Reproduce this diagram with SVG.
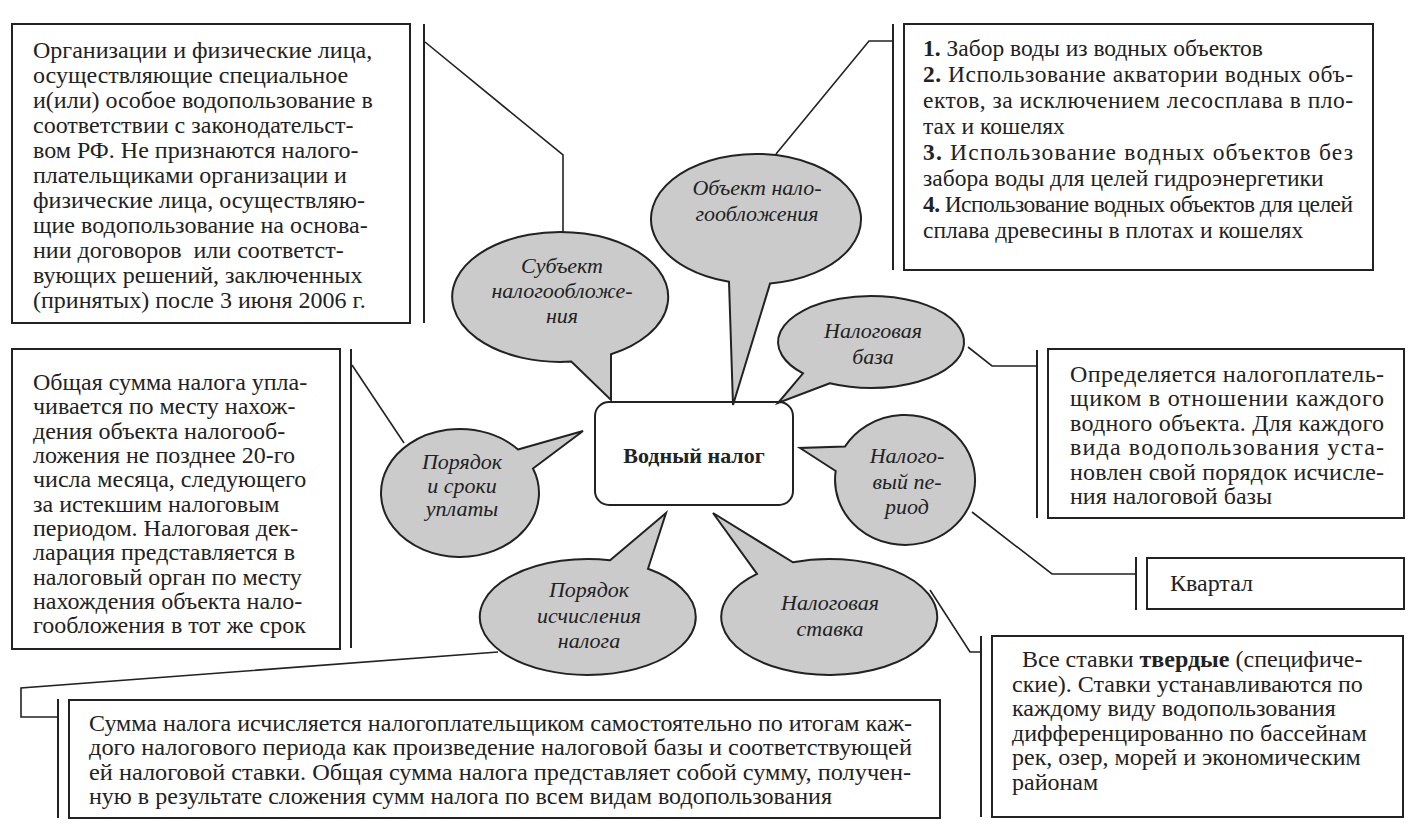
<svg xmlns="http://www.w3.org/2000/svg" width="1415" height="828" viewBox="0 0 1415 828">
<style>
.box{fill:#fff;stroke:#222;stroke-width:2}
.bub{fill:#cbcbcb;stroke:#222;stroke-width:2;stroke-linejoin:miter}
.ln{fill:none;stroke:#222;stroke-width:1.6}
.bar{fill:none;stroke:#222;stroke-width:2}
.t{font-family:"Liberation Serif","DejaVu Serif",serif;font-size:24px;fill:#222}
.tr{font-size:23.5px}
.it{font-style:italic;text-anchor:middle;font-size:22px}
.b{font-weight:bold}
.ctr{font-size:22px;text-anchor:middle}
.c{font-family:"Liberation Serif","DejaVu Serif",serif;font-size:23px;fill:#222}
</style>
<rect width="1415" height="828" fill="#fff"/>
<g id="connectors">
<line class="bar" x1="424" y1="24" x2="424" y2="323"/>
<polyline class="ln" points="425,42 563,155 563,232"/>
<line class="bar" x1="893" y1="24" x2="893" y2="270"/>
<polyline class="ln" points="776,154 869,41 893,41"/>
<line class="bar" x1="1037" y1="350" x2="1037" y2="518"/>
<polyline class="ln" points="968,347 992,366 1037,366"/>
<line class="bar" x1="1136" y1="557" x2="1136" y2="610"/>
<polyline class="ln" points="972,512 1052,574 1136,574"/>
<line class="bar" x1="981" y1="636" x2="981" y2="817"/>
<polyline class="ln" points="930,590 970,652 981,652"/>
<line class="bar" x1="58" y1="699" x2="58" y2="818"/>
<polyline class="ln" points="498,652 21,688 21,717 58,717"/>
<line class="bar" x1="351" y1="349" x2="351" y2="648"/>
<polyline class="ln" points="352,365 404,443"/>
</g>
<g id="subject-box">
<rect class="box" x="12" y="24" width="398" height="299"/>
<text class="t" x="33" y="58">Организации и физические лица,</text>
<text class="t" x="33" y="83">осуществляющие специальное</text>
<text class="t" x="33" y="108">и(или) особое водопользование в</text>
<text class="t" x="33" y="133">соответствии с законодательст-</text>
<text class="t" x="33" y="158">вом РФ. Не признаются налого-</text>
<text class="t" x="33" y="183">плательщиками организации и</text>
<text class="t" x="33" y="208">физические лица, осуществляю-</text>
<text class="t" x="33" y="233">щие водопользование на основа-</text>
<text class="t" x="33" y="258" xml:space="preserve">нии договоров  или соответст-</text>
<text class="t" x="33" y="283">вующих решений, заключенных</text>
<text class="t" x="33" y="308">(принятых) после 3 июня 2006 г.</text>
</g>
<g id="object-box">
<rect class="box" x="904" y="24" width="469" height="246"/>
<text class="t tr" x="923" y="56"><tspan class="b">1.</tspan> Забор воды из водных объектов</text>
<text class="t tr" x="923" y="82" textLength="430" lengthAdjust="spacing"><tspan class="b">2.</tspan> Использование акватории водных объ-</text>
<text class="t tr" x="923" y="108" textLength="430" lengthAdjust="spacing">ектов, за исключением лесосплава в пло-</text>
<text class="t tr" x="923" y="134">тах и кошелях</text>
<text class="t tr" x="923" y="160" textLength="430" lengthAdjust="spacing"><tspan class="b">3.</tspan> Использование водных объектов без</text>
<text class="t tr" x="923" y="186">забора воды для целей гидроэнергетики</text>
<text class="t tr" x="923" y="212" textLength="430" lengthAdjust="spacing"><tspan class="b">4.</tspan> Использование водных объектов для целей</text>
<text class="t tr" x="923" y="238">сплава древесины в плотах и кошелях</text>
</g>
<g id="base-box">
<rect class="box" x="1048" y="349" width="356" height="169"/>
<text class="t" x="1070" y="382" textLength="314" lengthAdjust="spacing">Определяется налогоплатель-</text>
<text class="t" x="1070" y="406" textLength="314" lengthAdjust="spacing">щиком в отношении каждого</text>
<text class="t" x="1070" y="431" textLength="314" lengthAdjust="spacing">водного объекта. Для каждого</text>
<text class="t" x="1070" y="455" textLength="314" lengthAdjust="spacing">вида водопользования уста-</text>
<text class="t" x="1070" y="480" textLength="314" lengthAdjust="spacing">новлен свой порядок исчисле-</text>
<text class="t" x="1070" y="504">ния налоговой базы</text>
</g>
<g id="period-box">
<rect class="box" x="1147" y="558" width="257" height="51"/>
<text class="t" x="1170" y="591">Квартал</text>
</g>
<g id="rate-box">
<rect class="box" x="992" y="636" width="411" height="181"/>
<text class="t" x="1022" y="667">Все ставки <tspan class="b">твердые</tspan> (специфиче-</text>
<text class="t" x="1012" y="692">ские). Ставки устанавливаются по</text>
<text class="t" x="1012" y="716">каждому виду водопользования</text>
<text class="t" x="1012" y="741">дифференцированно по бассейнам</text>
<text class="t" x="1012" y="765">рек, озер, морей и экономическим</text>
<text class="t" x="1012" y="790">районам</text>
</g>
<g id="payment-box">
<rect class="box" x="12" y="349" width="328" height="300"/>
<text class="t" x="33" y="390">Общая сумма налога упла-</text>
<text class="t" x="33" y="414">чивается по месту нахож-</text>
<text class="t" x="33" y="439">дения объекта налогооб-</text>
<text class="t" x="33" y="463">ложения не позднее 20-го</text>
<text class="t" x="33" y="487">числа месяца, следующего</text>
<text class="t" x="33" y="512">за истекшим налоговым</text>
<text class="t" x="33" y="536">периодом. Налоговая дек-</text>
<text class="t" x="33" y="560">ларация представляется в</text>
<text class="t" x="33" y="585">налоговый орган по месту</text>
<text class="t" x="33" y="609">нахождения объекта нало-</text>
<text class="t" x="33" y="633">гообложения в тот же срок</text>
</g>
<g id="calc-box">
<rect class="box" x="69" y="700" width="871" height="118"/>
<text class="c" x="89" y="731" textLength="823" lengthAdjust="spacingAndGlyphs">Сумма налога исчисляется налогоплательщиком самостоятельно по итогам каж-</text>
<text class="c" x="89" y="755" textLength="823" lengthAdjust="spacingAndGlyphs">дого налогового периода как произведение налоговой базы и соответствующей</text>
<text class="c" x="89" y="780" textLength="822" lengthAdjust="spacingAndGlyphs">ей налоговой ставки. Общая сумма налога представляет собой сумму, получен-</text>
<text class="c" x="89" y="804" textLength="743" lengthAdjust="spacingAndGlyphs">ную в результате сложения сумм налога по всем видам водопользования</text>
</g>
<g id="center">
<rect class="box" x="595" y="402" width="198" height="103" rx="14" ry="14"/>
<text class="t b ctr" x="694" y="463">Водный налог</text>
</g>
<g id="bubble-subject">
<path class="bub" d="M611,354.3 L611,400 L571.3,361.6 A108,65 0 1 1 611,354.3 Z"/>
<text class="t it" x="562" y="273">Субъект</text>
<text class="t it" x="562" y="298">налогообложе-</text>
<text class="t it" x="562" y="323">ния</text>
</g>
<g id="bubble-object">
<path class="bub" d="M770.1,283.4 L733,405 L729,281.8 A105,65 0 1 1 770.1,283.4 Z"/>
<text class="t it" x="757" y="195">Объект нало-</text>
<text class="t it" x="757" y="221">гообложения</text>
</g>
<g id="bubble-base">
<path class="bub" d="M829.9,383.3 L778,403 L803,373.4 A93,46 0 1 1 829.9,383.3 Z"/>
<text class="t it" x="873" y="338">Налоговая</text>
<text class="t it" x="873" y="364">база</text>
</g>
<g id="bubble-period">
<path class="bub" d="M835.7,471 L800,448 L845,446.5 A70,65 0 1 1 835.7,471 Z"/>
<text class="t it" x="907" y="463">Налого-</text>
<text class="t it" x="907" y="489">вый пе-</text>
<text class="t it" x="907" y="514">риод</text>
</g>
<g id="bubble-payment">
<path class="bub" d="M518,449.5 L583,431 L533,468.5 A79,64 0 1 1 518,449.5 Z"/>
<text class="t it" x="462" y="469">Порядок</text>
<text class="t it" x="462" y="493">и сроки</text>
<text class="t it" x="462" y="516">уплаты</text>
</g>
<g id="bubble-calc">
<path class="bub" d="M610.1,560.2 L666,513 L648,568.8 A108,58 0 1 1 610.1,560.2 Z"/>
<text class="t it" x="589" y="597">Порядок</text>
<text class="t it" x="589" y="623">исчисления</text>
<text class="t it" x="589" y="648">налога</text>
</g>
<g id="bubble-rate">
<path class="bub" d="M757,573.8 L713,513 L792.9,562.3 A108,58 0 1 1 757,573.8 Z"/>
<text class="t it" x="830" y="610">Налоговая</text>
<text class="t it" x="830" y="636">ставка</text>
</g>
</svg>
